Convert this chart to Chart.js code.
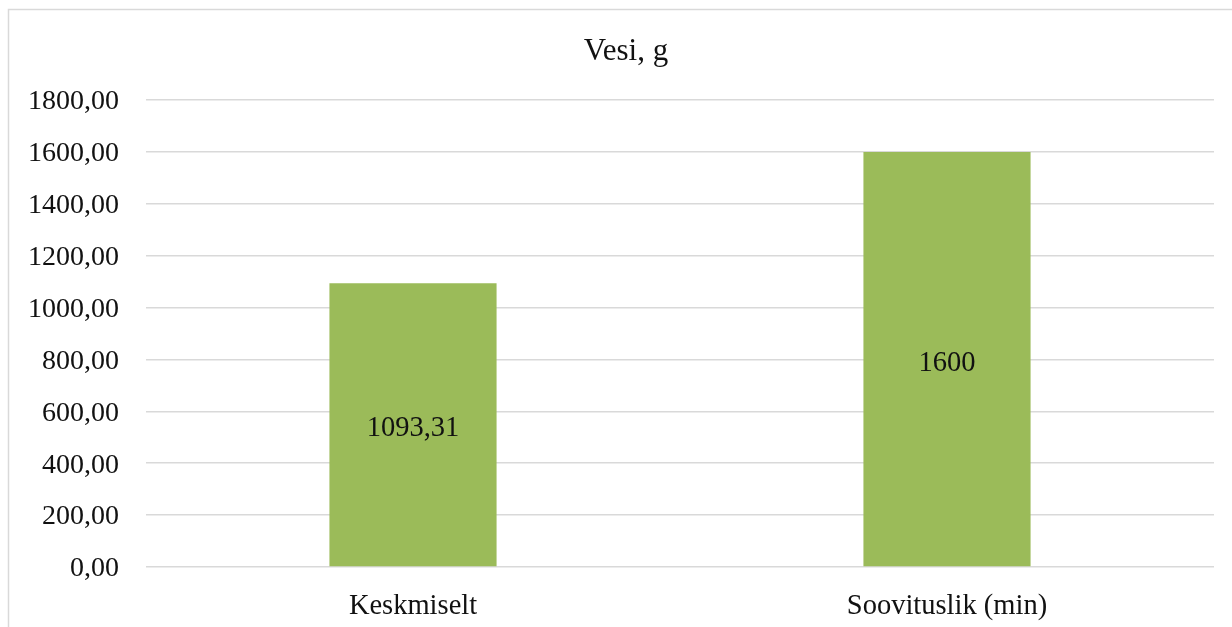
<!DOCTYPE html>
<html>
<head>
<meta charset="utf-8">
<script src="https://cdn.jsdelivr.net/npm/chart.js@4"></script>
<style>
  html, body { margin: 0; padding: 0; background: #fff; }
  #wrap { width: 1232px; height: 627px; position: relative; }
</style>
</head>
<body>
<div id="wrap"><canvas id="myBarChart" width="1232" height="627"></canvas></div>
<script>
let title = 'Vesi, g';
let categories = ['Keskmiselt', 'Soovituslik (min)'];
let values = [1093.31, 1600];
let yTicks = [0, 200, 400, 600, 800, 1000, 1200, 1400, 1600, 1800];

let barColor = '#9BBB59';
let gridColor = '#d9d9d9';
let textColor = '#111';
let fontFamily = '"Liberation Serif", "Times New Roman", serif';

// value labels in the middle of each bar
let barLabels = {
    id: 'barLabels',
    afterDatasetsDraw(chart) {
        let ctx = chart.ctx;
        let meta = chart.getDatasetMeta(0);
        ctx.save();
        ctx.font = '28.5px ' + fontFamily;
        ctx.fillStyle = textColor;
        ctx.textAlign = 'center';
        ctx.textBaseline = 'middle';
        meta.data.forEach((bar, i) => {
            let text = String(values[i]).replace('.', ',');
            ctx.fillText(text, bar.x, (bar.y + bar.base) / 2 + 4);
        });
        ctx.restore();
    }
};

// light frame round the chart and the title (the frame runs off the right edge,
// so the title sits a little right of the canvas middle)
let frame = {
    id: 'frame',
    beforeDraw(chart) {
        let ctx = chart.ctx;
        ctx.save();
        ctx.strokeStyle = gridColor;
        ctx.lineWidth = 1.5;
        ctx.strokeRect(8.5, 9.5, chart.width + 20, chart.height + 20);
        ctx.font = '31px ' + fontFamily;
        ctx.fillStyle = textColor;
        ctx.textAlign = 'center';
        ctx.textBaseline = 'middle';
        ctx.fillText(title, 626, 52);
        ctx.restore();
    }
};

let ctx = document.getElementById('myBarChart').getContext('2d');
let myBarChart = new Chart(ctx, {
    type: 'bar',
    data: {
        labels: categories,
        datasets: [{
            data: values,
            backgroundColor: barColor,
            borderWidth: 0,
            categoryPercentage: 1,
            barPercentage: 0.313
        }]
    },
    options: {
        responsive: false,
        animation: false,
        layout: { padding: { left: 8, right: 18, top: 100, bottom: 0 } },
        plugins: {
            legend: { display: false },
            tooltip: { enabled: false },
            title: { display: false }
        },
        scales: {
            x: {
                grid: { display: false },
                border: { display: false },
                ticks: {
                    color: textColor,
                    font: { family: fontFamily, size: 28.5 },
                    padding: 14
                },
                afterFit(scale) { scale.height = 60; }
            },
            y: {
                min: 0,
                max: 1800,
                afterBuildTicks(scale) {
                    scale.ticks = yTicks.map(v => ({ value: v }));
                },
                grid: { color: gridColor, lineWidth: 1.5, drawTicks: false },
                border: { display: false },
                ticks: {
                    color: textColor,
                    font: { family: fontFamily, size: 28 },
                    padding: 27,
                    labelOffset: 2,
                    callback: v => v.toFixed(2).replace('.', ',')
                },
                afterFit(scale) { scale.width = 138; }
            }
        }
    },
    plugins: [frame, barLabels]
});
</script>
</body>
</html>
